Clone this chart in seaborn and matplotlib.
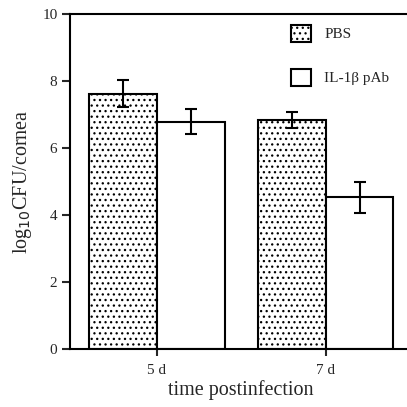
import matplotlib
matplotlib.use("Agg")
import matplotlib.pyplot as plt
import seaborn as sns
import pandas as pd
import numpy as np
from matplotlib.patches import Patch

categories = ["5 d", "7 d"]
groups = ["PBS", "IL-1β pAb"]
pbs_values = [7.62, 6.83]
pbs_err = [0.41, 0.23]
il1_values = [6.78, 4.53]
il1_err = [0.37, 0.47]
yticks = [0, 2, 4, 6, 8, 10]

df = pd.DataFrame({
    "time": categories * 2,
    "group": [groups[0]] * 2 + [groups[1]] * 2,
    "value": pbs_values + il1_values,
})
errs = pbs_err + il1_err

sns.set_style("white")
plt.rcParams["font.family"] = ["Liberation Serif", "DejaVu Serif"]
plt.rcParams["hatch.linewidth"] = 0.9

fig = plt.figure(figsize=(4.07, 4.07), dpi=100)
ax = fig.add_axes([70 / 407, 1 - 349 / 407, (412 - 70) / 407, (349 - 14) / 407])

sns.barplot(data=df, x="time", y="value", hue="group", order=categories,
            hue_order=groups, errorbar=None, width=0.8, ax=ax,
            palette=["white", "white"], edgecolor="black", linewidth=1.5,
            legend=False)

bars = ax.patches[:4]
for i, p in enumerate(bars):
    if i < 2:
        p.set_hatch("...")
    xc = p.get_x() + p.get_width() / 2
    ax.errorbar(xc, p.get_height(), yerr=errs[i], fmt="none", ecolor="black",
                elinewidth=1.5, capsize=4, capthick=1.5)

ax.set_ylim(0, 10)
ax.set_xlim(-0.515, 1.51)
ax.set_yticks(yticks)
ax.set_yticklabels([str(t) for t in yticks], fontsize=11)
ax.set_xticks([-0.0, 1.0])
ax.set_xticklabels(categories, fontsize=11)
ax.tick_params(axis="y", direction="out", length=6, width=1.5, left=True, pad=3)
ax.tick_params(axis="x", direction="out", length=5, width=1.5, bottom=True, pad=6)
for s in ["left", "bottom", "top"]:
    ax.spines[s].set_linewidth(1.5)
    ax.spines[s].set_color("black")
ax.spines["right"].set_visible(False)

ax.set_xlabel("time postinfection", fontsize=14.5, labelpad=2)
ax.set_ylabel(r"log$_{10}$CFU/cornea", fontsize=14.5, labelpad=6)

handles = [Patch(facecolor="white", edgecolor="black", hatch="...", linewidth=1.5),
           Patch(facecolor="white", edgecolor="black", linewidth=1.5)]
ax.legend(handles, groups, loc="upper left", bbox_to_anchor=((277 - 70) / 342, 1 - (11 - 14) / 335),
          frameon=False, fontsize=11, handlelength=1.3, handleheight=1.35,
          labelspacing=1.75, handletextpad=0.9)

fig.savefig("out.png", dpi=100)
